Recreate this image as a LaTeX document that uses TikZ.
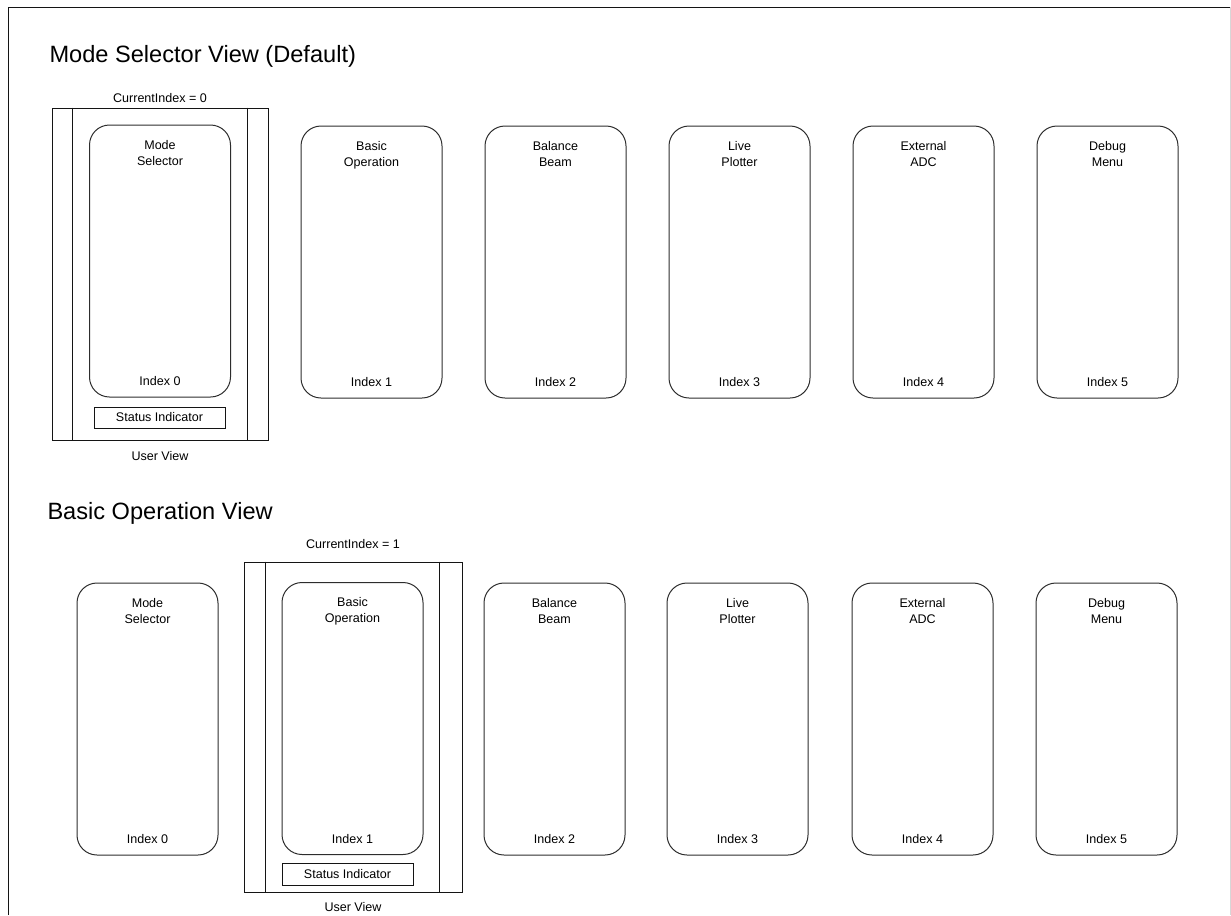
\documentclass[tikz,border=0pt]{standalone}
\usepackage{fontspec}
\setmainfont{Liberation Sans}
\usepackage{tikz}
\usetikzlibrary{positioning}
\definecolor{menu@line}{RGB}{45,45,45}
\definecolor{menu@frame}{RGB}{20,20,20}
\definecolor{menu@edge}{RGB}{215,215,215}
\tikzset{
  menus/.style={
    x=0.75pt, y=-0.75pt,
    line width=0.75pt,
    every node/.style={font=\fontsize{9.4}{12}\selectfont}
  },
  modebox/.style={                 % one screen of the carousel
    draw=menu@line, line width=0.75pt,
    rounded corners=15pt,
    inner sep=0pt,
    minimum width=105.75pt,
    minimum height=204pt
  },
  modename/.style={inner sep=0pt, align=center},
  modeidx/.style={inner sep=0pt},
  viewframe/.style={               % what the user sees
    draw=menu@frame, line width=0.75pt,
    inner sep=0pt
  },
  statusbox/.style={
    draw=menu@frame, line width=0.75pt,
    inner sep=0pt,
    minimum width=98.25pt
  },
  viewtitle/.style={font=\fontsize{17.7}{21}\selectfont, anchor=base west, inner sep=0pt},
  note/.style={inner sep=0pt}
}

\begin{document}
\begin{tikzpicture}[menus]
\useasboundingbox (0,0) rectangle (1231,915);
% page frame
\draw[menu@frame] (8,915) -- (8,7) -- (1230,7);
\draw[menu@edge] (1230,7) -- (1230,915);

% Mode selector view (top)
\node[viewtitle] (title0) at (49,62) {Mode Selector View (Default)};

\node[viewframe, minimum width=162pt, minimum height=249pt] (uv0) at (160,274) {};
\draw[menu@frame] ([xshift=15.75pt]uv0.north west) -- ([xshift=15.75pt]uv0.south west);
\draw[menu@frame] ([xshift=-15.75pt]uv0.north east) -- ([xshift=-15.75pt]uv0.south east);
\node[note] (cur0) at (160,98) {CurrentIndex = 0};
\node[note] (user0) at (160,456) {User View};
\node[statusbox, minimum height=15.75pt] (st0) at (159.5,417.5) {Status Indicator};

\node[modebox] (ms0) at (160,261) {};
\node[modebox] (bo0) at (371.5,262) {};
\node[modebox] (bb0) at (555.5,262) {};
\node[modebox] (lp0) at (739.5,262) {};
\node[modebox] (ea0) at (923.5,262) {};
\node[modebox] (dm0) at (1107.5,262) {};

\node[modename, below=11.5pt of ms0.north] (ms0n) {Mode\\Selector};
\node[modename, below=11.5pt of bo0.north] (bo0n) {Basic\\Operation};
\node[modename, below=11.5pt of bb0.north] (bb0n) {Balance\\Beam};
\node[modename, below=11.5pt of lp0.north] (lp0n) {Live\\Plotter};
\node[modename, below=11.5pt of ea0.north] (ea0n) {External\\ADC};
\node[modename, below=11.5pt of dm0.north] (dm0n) {Debug\\Menu};

\node[modeidx, above=8.5pt of ms0.south] (ms0i) {Index 0};
\node[modeidx, above=8.5pt of bo0.south] (bo0i) {Index 1};
\node[modeidx, above=8.5pt of bb0.south] (bb0i) {Index 2};
\node[modeidx, above=8.5pt of lp0.south] (lp0i) {Index 3};
\node[modeidx, above=8.5pt of ea0.south] (ea0i) {Index 4};
\node[modeidx, above=8.5pt of dm0.south] (dm0i) {Index 5};

% Basic operation view (bottom)
\node[viewtitle] (title1) at (47,519) {Basic Operation View};

\node[viewframe, minimum width=163.5pt, minimum height=247.5pt] (uv1) at (353,727) {};
\draw[menu@frame] ([xshift=16.5pt]uv1.north west) -- ([xshift=16.5pt]uv1.south west);
\draw[menu@frame] ([xshift=-17pt]uv1.north east) -- ([xshift=-17pt]uv1.south east);
\node[note] (cur1) at (353,544) {CurrentIndex = 1};
\node[note] (user1) at (353,907) {User View};
\node[statusbox, minimum height=16.5pt] (st1) at (347.5,874) {Status Indicator};

\node[modebox] (ms1) at (147.5,719) {};
\node[modebox] (bo1) at (352.5,718.5) {};
\node[modebox] (bb1) at (554.5,719) {};
\node[modebox] (lp1) at (737.5,719) {};
\node[modebox] (ea1) at (922.5,719) {};
\node[modebox] (dm1) at (1106.5,719) {};

\node[modename, below=11.5pt of ms1.north] (ms1n) {Mode\\Selector};
\node[modename, below=11.5pt of bo1.north] (bo1n) {Basic\\Operation};
\node[modename, below=11.5pt of bb1.north] (bb1n) {Balance\\Beam};
\node[modename, below=11.5pt of lp1.north] (lp1n) {Live\\Plotter};
\node[modename, below=11.5pt of ea1.north] (ea1n) {External\\ADC};
\node[modename, below=11.5pt of dm1.north] (dm1n) {Debug\\Menu};

\node[modeidx, above=8.5pt of ms1.south] (ms1i) {Index 0};
\node[modeidx, above=8.5pt of bo1.south] (bo1i) {Index 1};
\node[modeidx, above=8.5pt of bb1.south] (bb1i) {Index 2};
\node[modeidx, above=8.5pt of lp1.south] (lp1i) {Index 3};
\node[modeidx, above=8.5pt of ea1.south] (ea1i) {Index 4};
\node[modeidx, above=8.5pt of dm1.south] (dm1i) {Index 5};

\end{tikzpicture}
\end{document}
